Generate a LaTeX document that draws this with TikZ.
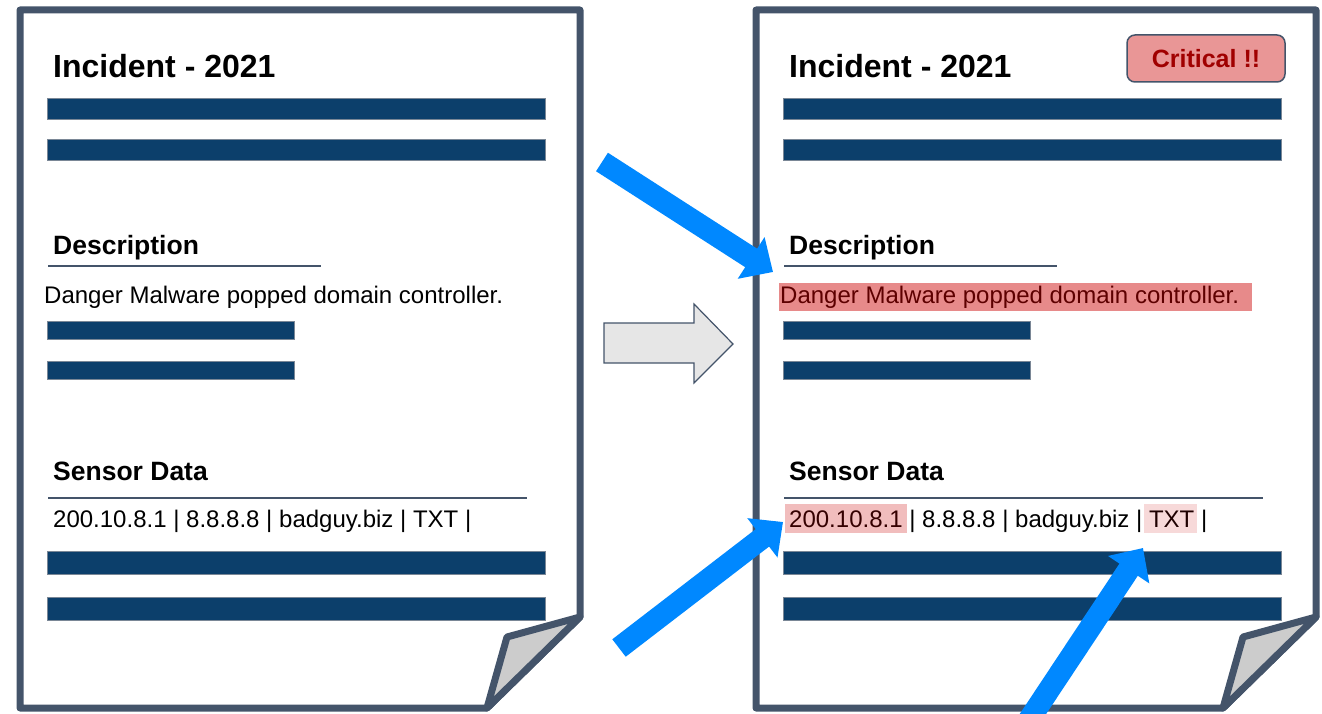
\documentclass[tikz,border=0pt]{standalone}
\usepackage{fontspec}
\setmainfont{Liberation Sans}
\usetikzlibrary{arrows.meta}

\definecolor{pageline}{HTML}{44546A}
\definecolor{barblue}{HTML}{0C3F6B}
\definecolor{baredge}{HTML}{7A8796}
\definecolor{flapgrey}{HTML}{CCCCCC}
\definecolor{pointer}{HTML}{0088FF}
\definecolor{alarm}{HTML}{CC0000}
\definecolor{badgefill}{HTML}{E99696}
\definecolor{badgetext}{HTML}{A00000}
\definecolor{blockgrey}{HTML}{E6E6E6}

\tikzset{
  sheet/.style={draw=pageline, line width=7pt, fill=white, line join=round},
  flap/.style={draw=pageline, line width=7pt, fill=flapgrey, line join=round},
  bar/.style={fill=barblue, draw=baredge, line width=0.8pt},
  rule/.style={draw=pageline, line width=1.5pt},
  titletext/.style={anchor=base west, inner sep=0pt, font=\fontsize{32}{38}\selectfont\bfseries},
  headtext/.style={anchor=base west, inner sep=0pt, font=\fontsize{26.5}{32}\selectfont\bfseries},
  bodytext/.style={anchor=base west, inner sep=0pt, font=\fontsize{24}{29}\selectfont},
  pointer arrow/.style={draw=pointer, line width=22pt, -{Triangle[length=26pt,width=48pt]}},
  marker/.style={fill=alarm, fill opacity=#1, draw=none},
  blockarrow/.style={fill=blockgrey, draw=pageline, line width=1.2pt, line join=miter},
  badge/.style={fill=badgefill, draw=pageline, line width=1.5pt, rounded corners=8pt,
    minimum width=158pt, minimum height=47pt, inner sep=0pt,
    text=badgetext, font=\fontsize{25}{30}\selectfont\bfseries},
}

% One incident sheet: #1 horizontal offset, #2 prefix for node names
\newcommand\incidentsheet[2]{%
  \begin{scope}[xshift=#1]
    \draw[sheet] (20,10) -- (580,10) -- (580,617) -- (487,708) -- (20,708) -- cycle;
    \draw[flap] (580,617) -- (507,637) -- (487,708) -- cycle;
    \node[titletext] (#2-title) at (53,78) {Incident - 2021};
    \draw[bar] (47,98) rectangle (545,119);
    \draw[bar] (47,139) rectangle (545,160);
    \node[headtext] (#2-desc) at (53,254) {Description};
    \draw[rule] (48,266) -- (321,266);
    \node[bodytext] (#2-danger) at (44,303) {Danger Malware popped domain controller.};
    \draw[bar] (47,321) rectangle (294,339);
    \draw[bar] (47,361) rectangle (294,379);
    \node[headtext] (#2-sensor) at (53,480) {Sensor Data};
    \draw[rule] (48,498) -- (527,498);
    \node[bodytext] (#2-ip) at (53,527) {200.10.8.1 | 8.8.8.8 | badguy.biz | TXT |};
    \draw[bar] (47,551) rectangle (545,574);
    \draw[bar] (47,597) rectangle (545,620);
  \end{scope}}

\begin{document}
\begin{tikzpicture}[x=1pt, y=-1pt]
  \useasboundingbox (0,0) rectangle (1322,714);
  \clip (0,0) rectangle (1322,714);

  % the plain sheet and the marked-up sheet
  \incidentsheet{0pt}{L}
  \incidentsheet{736pt}{R}

  % marked passages on the right sheet
  \fill[marker=0.46] (779,283) rectangle (1252,311);
  \fill[marker=0.26] (785,504) rectangle (907,533);
  \fill[marker=0.15] (1144,504) rectangle (1197,533);

  % severity badge
  \node[badge] (crit) at (1206,58.5) {Critical !!};

  % transformation arrow between the sheets
  \draw[blockarrow] (604,323) -- (694,323) -- (694,304) -- (733,344)
        -- (694,383) -- (694,363) -- (604,363) -- cycle;

  % pointers to the marked passages
  \coordinate (p1s) at (602,162);  \coordinate (p1e) at (773,272);
  \coordinate (p2s) at (619,648);  \coordinate (p2e) at (783,522);
  \coordinate (p3s) at (1019,735); \coordinate (p3e) at (1143,548);
  \draw[pointer arrow] (p1s) -- (p1e);
  \draw[pointer arrow] (p2s) -- (p2e);
  \draw[pointer arrow] (p3s) -- (p3e);
\end{tikzpicture}
\end{document}
